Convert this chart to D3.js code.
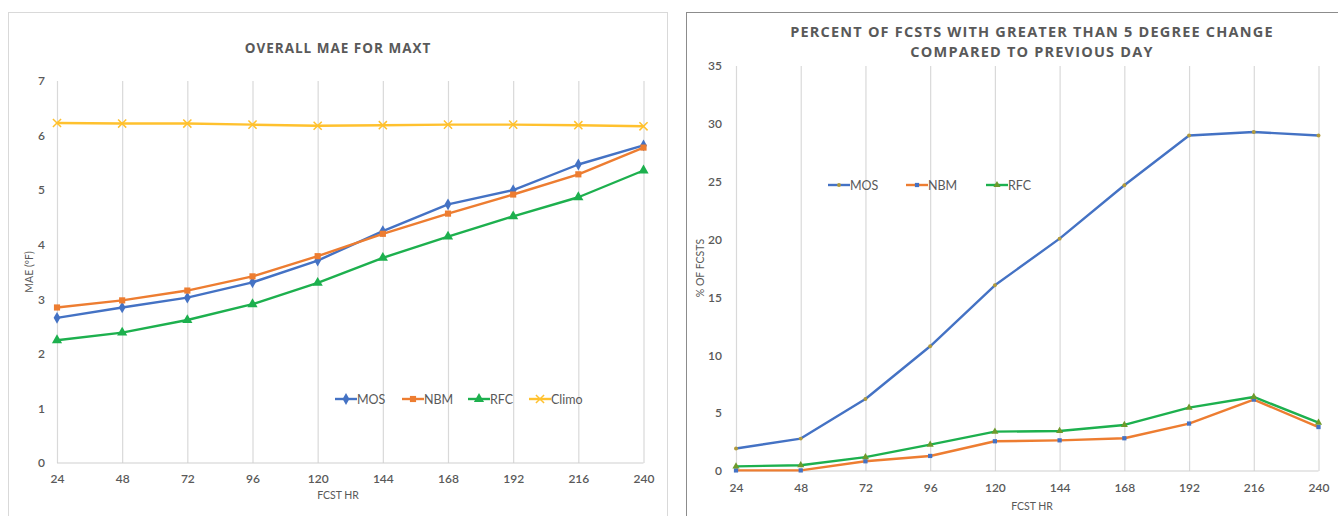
<!DOCTYPE html>
<html><head><meta charset="utf-8">
<script src="https://cdn.jsdelivr.net/npm/d3@7"></script>
<style>
body{margin:0;background:#fff;}
svg{display:block;font-family:"Open Sans",sans-serif;}
.tick text{fill:#595959;}
</style></head><body>
<svg id="c" width="1338" height="516"></svg>
<script>
const fcstHours = [24,48,72,96,120,144,168,192,216,240];
const maeMOS   = [2.66,2.85,3.03,3.31,3.71,4.25,4.74,5.00,5.47,5.82];
const maeNBM   = [2.85,2.98,3.16,3.42,3.79,4.20,4.57,4.92,5.29,5.78];
const maeRFC   = [2.25,2.39,2.62,2.91,3.30,3.76,4.15,4.52,4.87,5.36];
const maeClimo = [6.23,6.22,6.22,6.20,6.18,6.19,6.20,6.20,6.19,6.17];
const pctMOS = [1.94,2.80,6.22,10.78,16.05,20.08,24.69,29.0,29.3,29.0];
const pctNBM = [0.05,0.05,0.84,1.30,2.57,2.65,2.83,4.10,6.17,3.80];
const pctRFC = [0.40,0.50,1.20,2.28,3.40,3.46,3.98,5.48,6.40,4.18];
const maeTicks = [0,1,2,3,4,5,6,7];
const pctTicks = [0,5,10,15,20,25,30,35];
const leftTitle = ["OVERALL MAE FOR MAXT"];
const rightTitle = ["PERCENT OF FCSTS WITH GREATER THAN 5 DEGREE CHANGE","COMPARED TO PREVIOUS DAY"];

const svg = d3.select("#c");
const C = {MOS:"#4472C4", NBM:"#ED7D31", RFC:"#1DB04E", Climo:"#FFC12E"};
const txt = "#595959";

// panel borders
svg.append("rect").attr("x",8.5).attr("y",12.5).attr("width",659).attr("height",520)
  .attr("fill","none").attr("stroke","#d9d9d9");
svg.append("rect").attr("x",686.5).attr("y",12.5).attr("width",700).attr("height",520)
  .attr("fill","none").attr("stroke","#8c8c8c");

function panel(o){
  const x = d3.scaleLinear().domain([24,240]).range(o.xr);
  const y = d3.scaleLinear().domain(o.yd).range(o.yr);
  const g = svg.append("g");
  // gridlines
  g.append("g").attr("transform",`translate(0,${o.yr[0]})`)
    .call(d3.axisBottom(x).tickValues(fcstHours).tickSize(-(o.yr[0]-o.yr[1])).tickFormat(""))
    .call(a=>a.select(".domain").remove())
    .call(a=>a.selectAll("line").attr("stroke","#d9d9d9").attr("stroke-width",1.2));
  // baseline
  g.append("line").attr("x1",o.xr[0]).attr("x2",o.xr[1]).attr("y1",o.yr[0]).attr("y2",o.yr[0])
    .attr("stroke","#d0d0d0").attr("stroke-width",1.2);
  // x axis labels
  g.append("g").attr("transform",`translate(0,${o.yr[0]})`)
    .call(d3.axisBottom(x).tickValues(fcstHours).tickSize(0).tickPadding(o.xpad).tickFormat(d3.format("d")))
    .call(a=>a.select(".domain").remove())
    .call(a=>a.selectAll("text").attr("font-size",12).attr("font-family","Lato, sans-serif").attr("font-weight",600).attr("fill",txt));
  // y axis labels
  g.append("g").attr("transform",`translate(${o.xr[0]},0)`)
    .call(d3.axisLeft(y).tickValues(o.ticks).tickSize(0).tickPadding(o.ypad).tickFormat(d3.format("d")))
    .call(a=>a.select(".domain").remove())
    .call(a=>a.selectAll("text").attr("font-size",12).attr("font-family","Lato, sans-serif").attr("font-weight",600).attr("fill",txt));
  // title
  o.title.forEach((t,i)=>{
    g.append("text").attr("x",o.tx).attr("y",o.ty+i*20).attr("text-anchor","middle")
      .attr("font-size",o.tfs).attr("font-weight",700).attr("letter-spacing",o.tls).attr("fill",txt).text(t);
  });
  // axis titles
  g.append("text").attr("x",o.tx).attr("y",o.xly).attr("text-anchor","middle")
    .attr("font-size",10.5).attr("font-family","Lato, sans-serif").attr("fill",txt).text("FCST HR");
  g.append("text").attr("transform",`translate(${o.ylx},${o.yly}) rotate(-90)`).attr("text-anchor","middle")
    .attr("font-size",10.5).attr("font-family","Lato, sans-serif").attr("fill",txt).text(o.ylab);
  // series
  o.series.forEach(s=>{
    const line = d3.line().x((d,i)=>x(fcstHours[i])).y(d=>y(d));
    g.append("path").datum(s.v).attr("d",line).attr("fill","none").attr("stroke",s.c)
      .attr("stroke-width",2.4).attr("stroke-linejoin","round");
    const sym = d3.symbol().type(s.sym).size(s.size);
    g.selectAll(null).data(s.v).join("path")
      .attr("transform",(d,i)=>`translate(${x(fcstHours[i])},${y(d)})`)
      .attr("d",sym())
      .attr("fill",s.stroke?"none":s.mc).attr("stroke",s.stroke?s.mc:"none").attr("stroke-width",1.5);
  });
  // legend
  o.series.forEach((s,i)=>{
    const lx = o.legx[i], ly = o.legy;
    g.append("line").attr("x1",lx).attr("x2",lx+22).attr("y1",ly).attr("y2",ly).attr("stroke",s.c).attr("stroke-width",2.4);
    g.append("path").attr("transform",`translate(${lx+11},${ly})`).attr("d",d3.symbol().type(s.sym).size(s.size)())
      .attr("fill",s.stroke?"none":s.mc).attr("stroke",s.stroke?s.mc:"none").attr("stroke-width",1.5);
    g.append("text").attr("x",lx+22).attr("y",ly+4.5).attr("font-size",12.5).attr("font-family","Lato, sans-serif")
      .attr("fill",txt).text(s.name);
  });
}

panel({
  xr:[57,643.5], yd:[0,7], yr:[463,81], ticks:maeTicks, xpad:11, ypad:12,
  title:leftTitle, tfs:13.5, tls:1.0, tx:338, ty:53, xly:499, ylx:33, yly:272, ylab:"MAE (ºF)",
  legx:[335,402,468,529], legy:399,
  series:[
    {name:"MOS",v:maeMOS,c:C.MOS,mc:C.MOS,sym:d3.symbolDiamond,size:40},
    {name:"NBM",v:maeNBM,c:C.NBM,mc:C.NBM,sym:d3.symbolSquare,size:38},
    {name:"RFC",v:maeRFC,c:C.RFC,mc:C.RFC,sym:d3.symbolTriangle,size:45},
    {name:"Climo",v:maeClimo,c:C.Climo,mc:C.Climo,sym:d3.symbolX,size:45,stroke:true}
  ]
});

panel({
  xr:[736,1318.5], yd:[0,35], yr:[471,66], ticks:pctTicks, xpad:12, ypad:14,
  title:rightTitle, tfs:14.5, tls:1.2, tx:1032, ty:37, xly:510, ylx:704, yly:268, ylab:"% OF FCSTS",
  legx:[828,906,986], legy:185,
  series:[
    {name:"MOS",v:pctMOS,c:C.MOS,mc:"#B09A3C",sym:d3.symbolCircle,size:12},
    {name:"NBM",v:pctNBM,c:C.NBM,mc:"#4472C4",sym:d3.symbolSquare,size:18},
    {name:"RFC",v:pctRFC,c:C.RFC,mc:"#6E9A2C",sym:d3.symbolTriangle,size:22}
  ]
});
</script></body></html>
